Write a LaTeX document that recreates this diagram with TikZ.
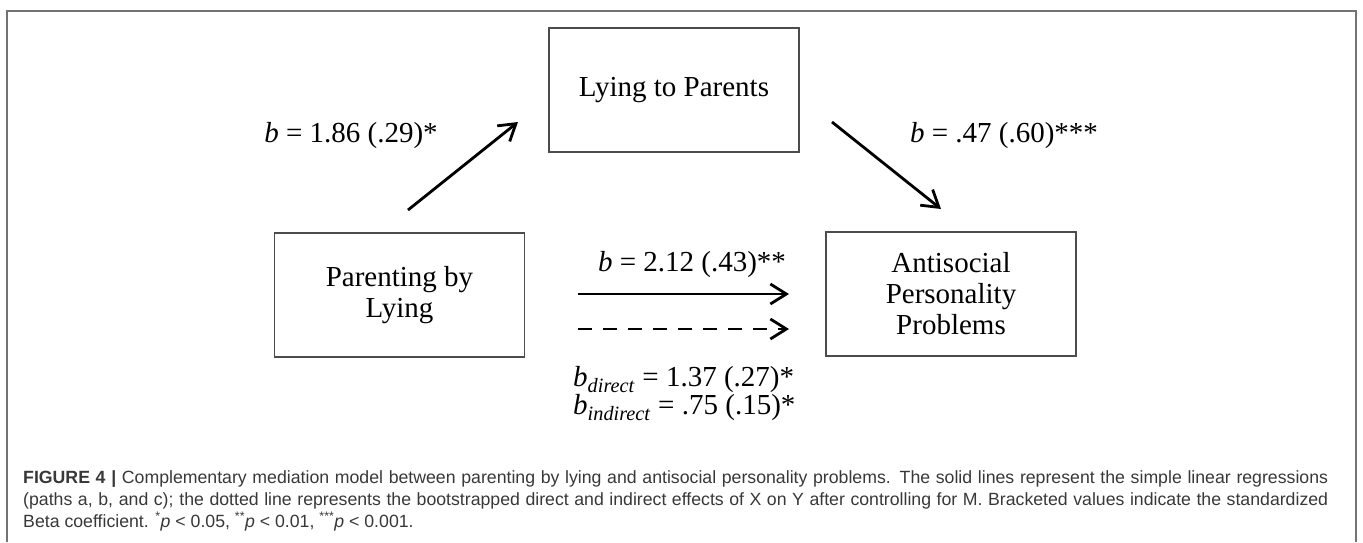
\documentclass[tikz,border=0pt]{standalone}
\usepackage{fontspec}
\setmainfont{Liberation Serif}
\newfontfamily\capfont{Liberation Sans}
\usetikzlibrary{arrows.meta}
\begin{document}
\begin{tikzpicture}[x=1pt,y=-1pt,
  box/.style={draw=black!70, line width=1.3pt, minimum width=250pt, minimum height=124pt, inner sep=0pt, align=center, font=\fontsize{29}{31}\selectfont},
  lbl/.style={inner sep=0pt, font=\fontsize{29}{31}\selectfont},
  arr/.style={line width=2.8pt, -{Straight Barb[length=16pt,width=20pt]}},
  captxt/.style={anchor=base west, inner sep=0pt, font=\capfont\fontsize{17.7}{22}\selectfont, text=black!78},
  outerframe/.style={draw=black!55, line width=1.5pt}]
\useasboundingbox (0,0) rectangle (1363,542);
% frame
\coordinate (f1) at (7,542);
\coordinate (f2) at (7,11);
\coordinate (f3) at (1356,11);
\coordinate (f4) at (1356,542);
\draw[outerframe] (f1) -- (f2) -- (f3) -- (f4);
% boxes
\node[box] (mbox) at (674,90) {Lying to Parents};
\node[box] (xbox) at (399.5,295) {Parenting by\\Lying};
\node[box] (ybox) at (951,294) {Antisocial\\Personality\\Problems};
% arrow endpoints
\coordinate (a1) at (408,210);
\coordinate (a2) at (518,122);
\coordinate (b1) at (832,122);
\coordinate (b2) at (941,209);
\coordinate (c1) at (578,294);
\coordinate (c2) at (789,294);
\coordinate (d1) at (578,329);
\coordinate (d2) at (789,329);
\draw[arr] (a1) -- (a2);
\draw[arr] (b1) -- (b2);
\draw[arr] (c1) -- (c2);
\draw[arr, dash pattern=on 14pt off 11pt] (d1) -- (d2);
% labels
\node[lbl] (la) at (351,136) {\textit{b} = 1.86 (.29)*};
\node[lbl] (lb) at (1004,136) {\textit{b} = .47 (.60)***};
\node[lbl] (lc) at (692,265) {\textit{b} = 2.12 (.43)**};
\node[lbl, anchor=west] (ld) at (573,380) {\textit{b}\textsubscript{\textit{direct}} = 1.37 (.27)*};
\node[lbl, anchor=west] (le) at (573,408) {\textit{b}\textsubscript{\textit{indirect}} = .75 (.15)*};
% caption
\node[captxt] (cap1) at (23,483) {\hbox to 1305pt{\textbf{FIGURE 4 |} Complementary mediation model between parenting by lying and antisocial personality problems. The solid lines represent the simple linear regressions}};
\node[captxt] (cap2) at (23,505) {\hbox to 1305pt{(paths a, b, and c); the dotted line represents the bootstrapped direct and indirect effects of X on Y after controlling for M. Bracketed values indicate the standardized}};
\node[captxt] (cap3) at (23,527) {Beta coefficient. \textsuperscript{*}\textit{p} < 0.05, \textsuperscript{**}\textit{p} < 0.01, \textsuperscript{***}\textit{p} < 0.001.};
\end{tikzpicture}
\end{document}
